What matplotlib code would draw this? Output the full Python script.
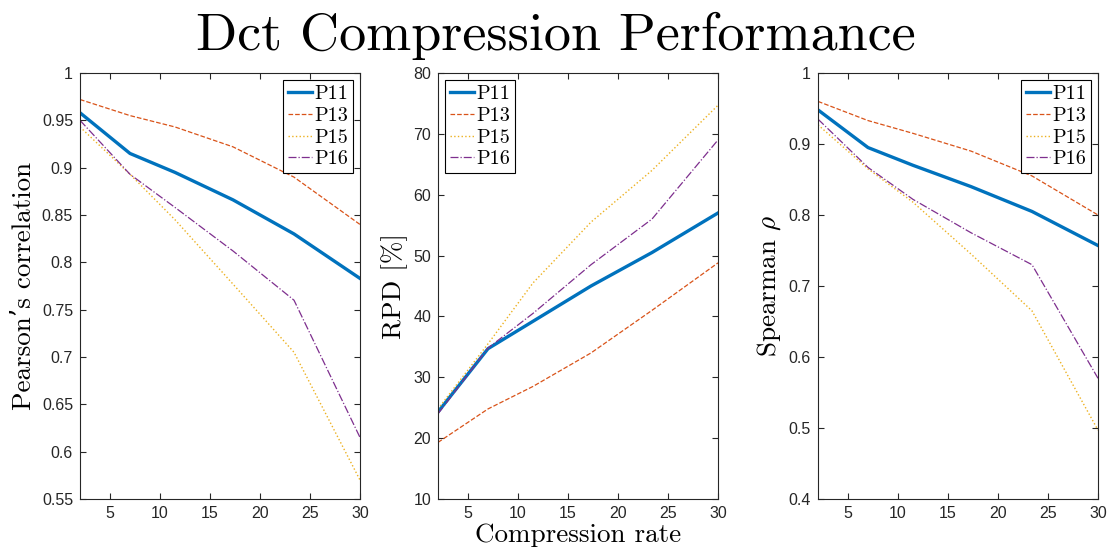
import numpy as np
import matplotlib
matplotlib.use('Agg')
import matplotlib.pyplot as plt
from matplotlib.ticker import FuncFormatter

# compression rates (x) and metric values
rate = [2, 7, 11.5, 17.3, 23.4, 30]
series = ['P11', 'P13', 'P15', 'P16']

pearson = {
    'P11': [0.958, 0.915, 0.895, 0.866, 0.830, 0.783],
    'P13': [0.972, 0.955, 0.943, 0.922, 0.890, 0.840],
    'P15': [0.943, 0.893, 0.845, 0.777, 0.705, 0.570],
    'P16': [0.950, 0.893, 0.858, 0.812, 0.760, 0.615],
}
rpd = {
    'P11': [24.3, 34.7, 39.2, 45.0, 50.5, 57.0],
    'P13': [19.3, 24.8, 28.5, 34.0, 41.0, 48.8],
    'P15': [24.8, 35.5, 45.5, 55.5, 64.0, 74.7],
    'P16': [24.0, 34.8, 40.5, 48.5, 56.0, 69.0],
}
spearman = {
    'P11': [0.948, 0.895, 0.870, 0.840, 0.805, 0.757],
    'P13': [0.960, 0.933, 0.915, 0.890, 0.855, 0.800],
    'P15': [0.927, 0.865, 0.818, 0.745, 0.665, 0.497],
    'P16': [0.935, 0.867, 0.822, 0.775, 0.730, 0.570],
}

colors = {'P11': '#0072BD', 'P13': '#D95319', 'P15': '#EDB120', 'P16': '#7E2F8E'}
styles = {'P11': '-', 'P13': '--', 'P15': ':', 'P16': '-.'}
widths = {'P11': 2.4, 'P13': 0.9, 'P15': 1.0, 'P16': 0.9}

plt.rcParams['mathtext.fontset'] = 'cm'
plt.rcParams['axes.unicode_minus'] = False
serif = ['cmr10', 'DejaVu Serif']
axcol = '#262626'

W, H = 1111, 554
fig = plt.figure(figsize=(W / 100, H / 100), dpi=100)

panels = [
    (80, pearson, "Pearson\u2019s correlation", (0.55, 1.0), np.arange(0.55, 1.001, 0.05), 'upper right'),
    (438, rpd, "RPD [%]", (10, 80), np.arange(10, 81, 10), 'upper left'),
    (818, spearman, r"Spearman $\rho$", (0.4, 1.0), np.arange(0.4, 1.001, 0.1), 'upper right'),
]

for i, (x0, data, ylab, ylim, yticks, loc) in enumerate(panels):
    ax = fig.add_axes([x0 / W, (H - 499) / H, 280 / W, 426 / H])
    for s in series:
        ax.plot(rate, data[s], linestyle=styles[s], color=colors[s],
                lw=widths[s], label=s)
    ax.set_xlim(2, 30)
    ax.set_ylim(*ylim)
    ax.set_xticks([5, 10, 15, 20, 25, 30])
    ax.set_yticks(yticks)
    ax.yaxis.set_major_formatter(FuncFormatter(lambda v, p: '%g' % round(v, 2)))
    ax.tick_params(direction='in', top=True, right=True, length=4, width=0.8,
                   colors=axcol, labelsize=11.5, pad=5)
    for lab in ax.get_xticklabels() + ax.get_yticklabels():
        lab.set_fontfamily('Liberation Sans')
    for sp in ax.spines.values():
        sp.set_color(axcol)
        sp.set_linewidth(0.8)
    ax.set_ylabel(ylab, fontfamily=serif, fontsize=19.5, labelpad=4)
    if i == 1:
        ax.set_xlabel('Compression rate', fontfamily=serif, fontsize=19.5, labelpad=2)
    leg = ax.legend(loc=loc, prop={'family': serif, 'size': 14.5},
                    fancybox=False, framealpha=1, edgecolor='black',
                    borderaxespad=0.35, handlelength=1.2, borderpad=0.25,
                    labelspacing=0.18, handletextpad=0.1)
    leg.get_frame().set_linewidth(0.8)

fig.text(0.5, 0.935, 'Dct Compression Performance', ha='center', va='center',
         fontfamily=serif, fontsize=39)

fig.savefig('out.png', dpi=100)
